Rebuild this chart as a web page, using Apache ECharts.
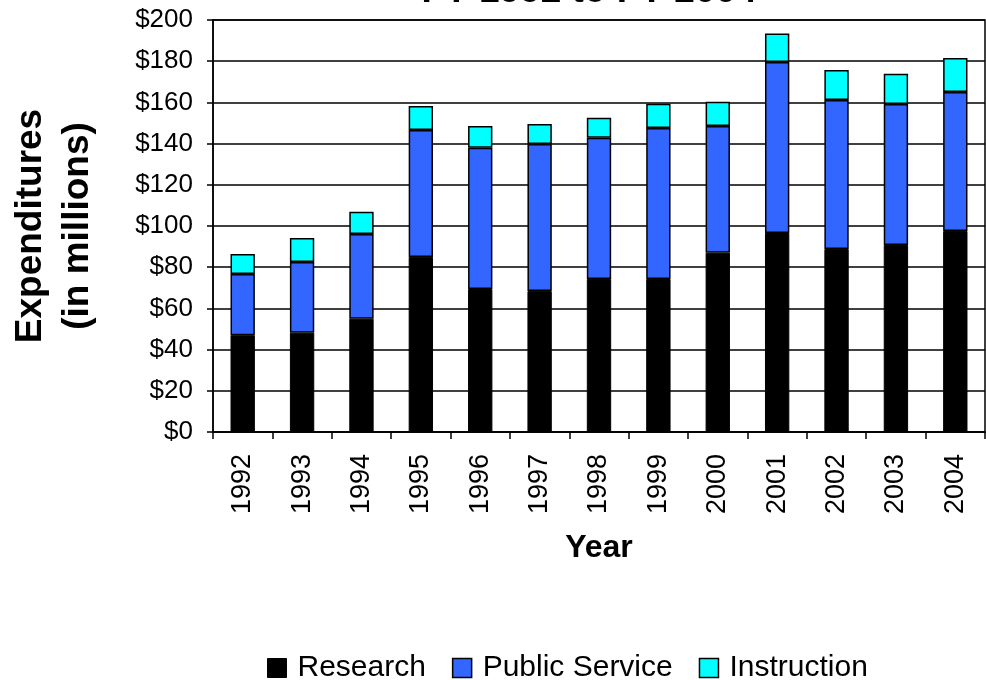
<!DOCTYPE html>
<html><head><meta charset="utf-8">
<script src="https://cdn.jsdelivr.net/npm/echarts@6/dist/echarts.min.js"></script>
<style>html,body{margin:0;padding:0;background:#fff}#c{width:986px;height:680px}</style>
</head><body><div id="c"></div>
<script>
var years = ['1992','1993','1994','1995','1996','1997','1998','1999','2000','2001','2002','2003','2004'];
var research = [47, 48.2, 55, 85, 69.4, 68.4, 74.3, 74.3, 87, 96.6, 88.8, 90.8, 97.6];
var publicService = [29.7, 34.3, 41.1, 61.6, 68.6, 71.4, 68.6, 73.3, 61.5, 83, 72.4, 68.4, 67.4];
var instruction = [9.7, 11.7, 10.8, 11.7, 10.5, 9.7, 9.7, 11.8, 11.8, 13.8, 14.5, 14.7, 16.6];
var yTicks = [0, 20, 40, 60, 80, 100, 120, 140, 160, 180, 200];

var F = 'Liberation Sans, Arial, sans-serif';
var chart = echarts.init(document.getElementById('c'));
chart.setOption({
  animation: false,
  title: {
    text: 'FY 1992 to FY 2004', left: 584, textAlign: 'center', top: -32,
    textStyle: {fontFamily: F, fontSize: 37, fontWeight: 'bold', color: '#000'}
  },
  legend: {
    top: 648, left: 262, itemWidth: 19, itemHeight: 19, itemGap: 26, icon: 'rect',
    textStyle: {fontFamily: F, fontSize: 30, color: '#000', padding: [0, 0, 0, 6]},
    data: [
      {name: 'Research', itemStyle: {color: '#000', borderColor: '#000', borderWidth: 1}},
      {name: 'Public Service', itemStyle: {color: '#3366FF', borderColor: '#000', borderWidth: 1.5}},
      {name: 'Instruction', itemStyle: {color: '#00FFFF', borderColor: '#000', borderWidth: 1.5}}
    ]
  },
  grid: {left: 213, right: 1, top: 20, bottom: 248, show: true, borderColor: '#000', borderWidth: 1.5,
    containLabel: false, outerBoundsMode: 'none'},
  xAxis: {
    type: 'category', data: years,
    name: 'Year', nameLocation: 'middle', nameGap: 100,
    nameTextStyle: {fontFamily: F, fontSize: 32, fontWeight: 'bold', color: '#000'},
    axisLine: {lineStyle: {color: '#000', width: 1.5}},
    axisTick: {show: true, length: 7, lineStyle: {color: '#000', width: 1.5}},
    axisLabel: {rotate: 90, fontFamily: F, fontSize: 27, color: '#000', margin: 22}
  },
  yAxis: {
    type: 'value', min: 0, max: 200, interval: 20,
    name: 'Expenditures\n(in millions)', nameLocation: 'middle', nameGap: 112,
    nameTextStyle: {fontFamily: F, fontSize: 37, fontWeight: 'bold', color: '#000', lineHeight: 47},
    axisLine: {show: true, lineStyle: {color: '#000', width: 1.5}},
    axisTick: {show: true, length: 6, lineStyle: {color: '#000', width: 1.5}},
    axisLabel: {fontFamily: F, fontSize: 26, color: '#000', margin: 20,
      formatter: function (v) { return yTicks.indexOf(v) >= 0 ? '$' + v : ''; }},
    splitLine: {show: true, lineStyle: {color: '#000', width: 1.5}}
  },
  series: [
    {name: 'Research', type: 'bar', stack: 'a', data: research, barWidth: '41%',
      itemStyle: {color: '#000', borderColor: '#000', borderWidth: 1}},
    {name: 'Public Service', type: 'bar', stack: 'a', data: publicService,
      itemStyle: {color: '#3366FF', borderColor: '#000', borderWidth: 1.5}},
    {name: 'Instruction', type: 'bar', stack: 'a', data: instruction,
      itemStyle: {color: '#00FFFF', borderColor: '#000', borderWidth: 1.5}}
  ]
});
</script></body></html>
